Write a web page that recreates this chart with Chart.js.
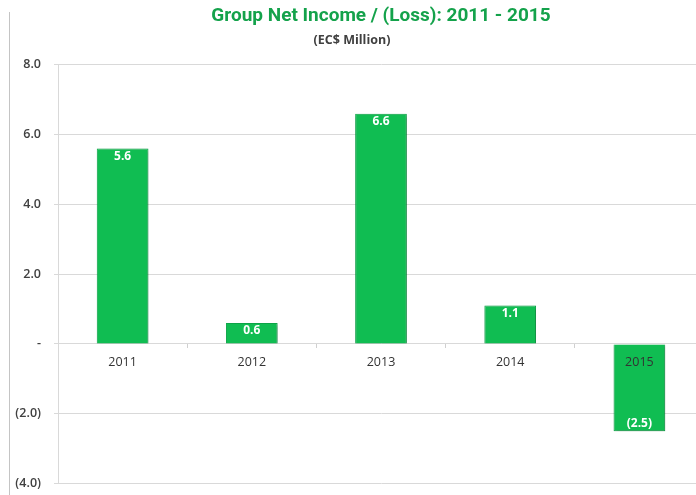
<!DOCTYPE html>
<html>
<head>
<meta charset="utf-8">
<script src="https://cdn.jsdelivr.net/npm/chart.js@4"></script>
<style>
    html, body { margin: 0; padding: 0; background: #fff; overflow: hidden; }
    #wrap { position: relative; width: 712px; height: 495px; overflow: hidden; }
    #frame { position: absolute; left: 9px; top: 12px; width: 1px; height: 483px; background: #c4c4c4; }
</style>
</head>
<body>
<div id="wrap">
    <div id="frame"></div>
    <canvas id="incomeChart" width="712" height="504"></canvas>
</div>
<script>
// Group net income / (loss), EC$ million
const years = ['2011', '2012', '2013', '2014', '2015'];
const netIncome = [5.6, 0.6, 6.6, 1.1, -2.5];
const yTicks = [-4, -2, 0, 2, 4, 6, 8];

// accounting style: 0 -> "-", negatives in brackets
function fmt(v) {
    if (v === 0) return '-';
    const s = Math.abs(v).toFixed(1);
    return v < 0 ? '(' + s + ')' : s;
}

// white value labels inside the bars
const barLabels = {
    id: 'barLabels',
    beforeDatasetsDraw(chart) {
        const ctx = chart.ctx;
        ctx.save();
        ctx.shadowColor = 'rgba(0,0,0,0.35)';
        ctx.shadowBlur = 3;
        ctx.shadowOffsetX = 1;
        ctx.shadowOffsetY = 1;
    },
    afterDatasetsDraw(chart) {
        const ctx = chart.ctx;
        ctx.restore();
        const meta = chart.getDatasetMeta(0);
        ctx.save();
        ctx.fillStyle = '#ffffff';
        ctx.font = 'bold 12px "Open Sans", sans-serif';
        ctx.textAlign = 'center';
        ctx.textBaseline = 'middle';
        meta.data.forEach((bar, i) => {
            const v = netIncome[i];
            const y = v >= 0 ? bar.y + 8 : bar.y - 8;
            ctx.fillText(fmt(v), bar.x, y);
        });
        ctx.restore();
    }
};

new Chart(document.getElementById('incomeChart'), {
    type: 'bar',
    data: {
        labels: years,
        datasets: [{
            data: netIncome,
            backgroundColor: '#10bd52',
            borderColor: '#0ea94a',
            borderWidth: 1,
            barPercentage: 0.4,
            categoryPercentage: 1
        }]
    },
    options: {
        responsive: false,
        animation: false,
        layout: { padding: { top: 0, right: 8, bottom: 12, left: 0 } },
        plugins: {
            legend: { display: false },
            tooltip: { enabled: false },
            title: {
                display: true,
                text: 'Group Net Income / (Loss): 2011 - 2015',
                color: '#14a24b',
                fullSize: false,
                font: { family: 'Roboto', size: 19, weight: 'bold' },
                padding: { top: 5, bottom: 2 }
            },
            subtitle: {
                display: true,
                text: '(EC$ Million)',
                color: '#404040',
                font: { family: '"Open Sans", sans-serif', size: 12.5, weight: 'bold' },
                padding: { top: 3, bottom: 17 }
            }
        },
        scales: {
            x: {
                position: { y: 0 },
                grid: { drawOnChartArea: false, tickLength: 4, color: '#d0d0d0' },
                border: { display: false },
                ticks: {
                    z: 1,
                    color: '#333333',
                    padding: 7,
                    font: { family: '"Open Sans", sans-serif', size: 12.5 }
                }
            },
            y: {
                min: -4,
                max: 8,
                afterBuildTicks(scale) {
                    scale.ticks = yTicks.map(v => ({ value: v }));
                },
                afterFit(scale) { scale.width = 58; },
                grid: { color: '#d9d9d9', tickLength: 4 },
                border: { color: '#d9d9d9' },
                ticks: {
                    color: '#404040',
                    padding: 13,
                    font: { family: '"Open Sans", sans-serif', size: 12.5, weight: '600' },
                    callback: v => fmt(v)
                }
            }
        }
    },
    plugins: [barLabels]
});
</script>
</body>
</html>
